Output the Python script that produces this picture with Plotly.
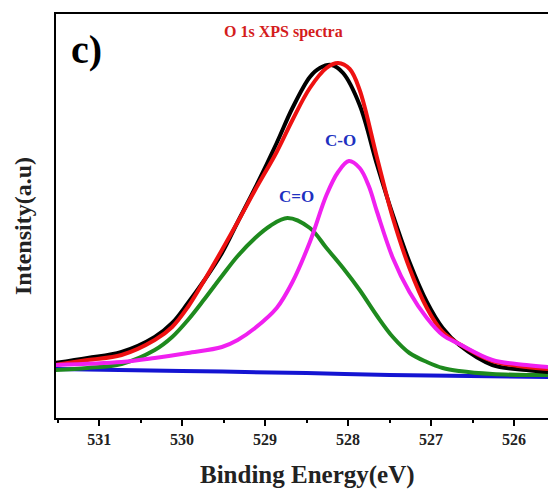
import plotly.graph_objects as go

# Binding energy (eV) sample positions and intensities
energy = [531.53, 531.14, 530.73, 530.33, 530.12, 529.93, 529.73, 529.52, 529.33, 529.12,
          528.86, 528.67, 528.46, 528.34, 528.20, 528.06, 527.86, 527.65, 527.46, 527.26,
          527.05, 526.86, 526.66, 526.26, 525.85, 525.59]
black_y = [55, 60, 66, 81, 95, 115, 138, 165, 196, 230,
           275, 310, 341, 350, 353, 345, 313, 253, 203, 156,
           116, 90, 73, 53, 48, 46]

red_x = [531.53, 531.14, 530.73, 530.33, 530.12, 529.93, 529.73, 529.52, 529.33, 529.12,
         528.86, 528.67, 528.46, 528.26, 528.12, 527.98, 527.86, 527.65, 527.46, 527.26,
         527.05, 526.86, 526.66, 526.26, 525.85, 525.59]
red_y = [53, 58, 63, 78, 91, 111, 138, 168, 196, 228,
         266, 298, 330, 350, 355, 349, 328, 260, 200, 150,
         110, 86, 74, 57, 51, 49]

mag_x = [531.53, 530.73, 530.33, 529.93, 529.52, 529.33, 529.12, 528.86, 528.67, 528.46,
         528.26, 528.12, 527.99, 527.86, 527.75, 527.65, 527.46, 527.26, 527.05, 526.86,
         526.66, 526.26, 525.85, 525.59]
mag_y = [53, 56, 60, 65, 71, 78, 90, 110, 136, 176,
         223, 246, 257, 250, 232, 206, 160, 126, 100, 83,
         74, 58, 53, 51]

green_x = [531.53, 531.14, 530.73, 530.33, 530.12, 529.93, 529.73, 529.52, 529.33, 529.12,
           528.94, 528.73, 528.46, 528.26, 528.06, 527.86, 527.65, 527.46, 527.26, 527.05,
           526.86, 526.66, 526.26, 525.85, 525.59]
green_y = [48, 50, 54, 68, 81, 98, 119, 142, 162, 180,
           192, 200, 190, 170, 150, 128, 102, 81, 65, 56,
           50, 47, 44, 43, 43]

blue_x = [531.53, 530.0, 528.5, 527.5, 525.59]
blue_y = [49, 47, 45, 43, 41]

tick_vals = [531, 530, 529, 528, 527, 526]
tick_text = ["531", "530", "529", "528", "527", "526"]

SERIF = "Liberation Serif"

fig = go.Figure()
fig.add_trace(go.Scatter(x=blue_x, y=blue_y, mode="lines",
                         line=dict(color="#1414d2", width=4, shape="spline")))
fig.add_trace(go.Scatter(x=green_x, y=green_y, mode="lines",
                         line=dict(color="#1e8a1e", width=4, shape="spline")))
fig.add_trace(go.Scatter(x=energy, y=black_y, mode="lines",
                         line=dict(color="#000000", width=4, shape="spline")))
fig.add_trace(go.Scatter(x=red_x, y=red_y, mode="lines",
                         line=dict(color="#ee1111", width=4, shape="spline")))
fig.add_trace(go.Scatter(x=mag_x, y=mag_y, mode="lines",
                         line=dict(color="#f020f0", width=4, shape="spline")))

fig.update_layout(
    width=548, height=489,
    margin=dict(l=56, r=0, t=14, b=71),
    paper_bgcolor="white", plot_bgcolor="white",
    showlegend=False,
    xaxis=dict(range=[531.52, 525.59], tickvals=tick_vals, ticktext=tick_text,
               ticks="outside", ticklen=6, tickwidth=2, tickcolor="black",
               showline=True, linecolor="black", linewidth=2, mirror=True,
               showgrid=False, zeroline=False,
               minor=dict(dtick=0.5, tick0=526, ticks="outside", ticklen=3,
                          tickwidth=2, tickcolor="black", showgrid=False),
               tickfont=dict(family=SERIF, size=16, color="#222", weight="bold")),
    yaxis=dict(range=[0, 404], showticklabels=False, ticks="",
               showline=True, linecolor="black", linewidth=2,
               showgrid=False, zeroline=False),
    annotations=[
        dict(text="<b>Binding Energy(eV)</b>", xref="paper", yref="paper",
             x=(307 - 56) / 492, y=-(475 - 418) / 404, showarrow=False,
             xanchor="center", yanchor="middle",
             font=dict(family=SERIF, size=25, color="#222")),
        dict(text="<b>Intensity(a.u)</b>", xref="paper", yref="paper",
             x=(23 - 56) / 492, y=(418 - 226) / 404, showarrow=False,
             textangle=-90, xanchor="center", yanchor="middle",
             font=dict(family=SERIF, size=24, color="#222")),
        dict(text="<b>c)</b>", xref="paper", yref="paper",
             x=(86 - 56) / 492, y=(418 - 50) / 404, showarrow=False,
             xanchor="center", yanchor="middle",
             font=dict(family=SERIF, size=40, color="black")),
        dict(text="<b>O 1s XPS spectra</b>", xref="paper", yref="paper",
             x=(283 - 56) / 492, y=(418 - 32) / 404, showarrow=False,
             xanchor="center", yanchor="middle",
             font=dict(family=SERIF, size=16, color="#d41c1c")),
        dict(text="<b>C-O</b>", xref="paper", yref="paper",
             x=(340 - 56) / 492, y=(418 - 140) / 404, showarrow=False,
             xanchor="center", yanchor="middle",
             font=dict(family=SERIF, size=17, color="#2030c0")),
        dict(text="<b>C=O</b>", xref="paper", yref="paper",
             x=(296 - 56) / 492, y=(418 - 197) / 404, showarrow=False,
             xanchor="center", yanchor="middle",
             font=dict(family=SERIF, size=17, color="#2030c0")),
    ],
)

fig.write_html("out.html")
